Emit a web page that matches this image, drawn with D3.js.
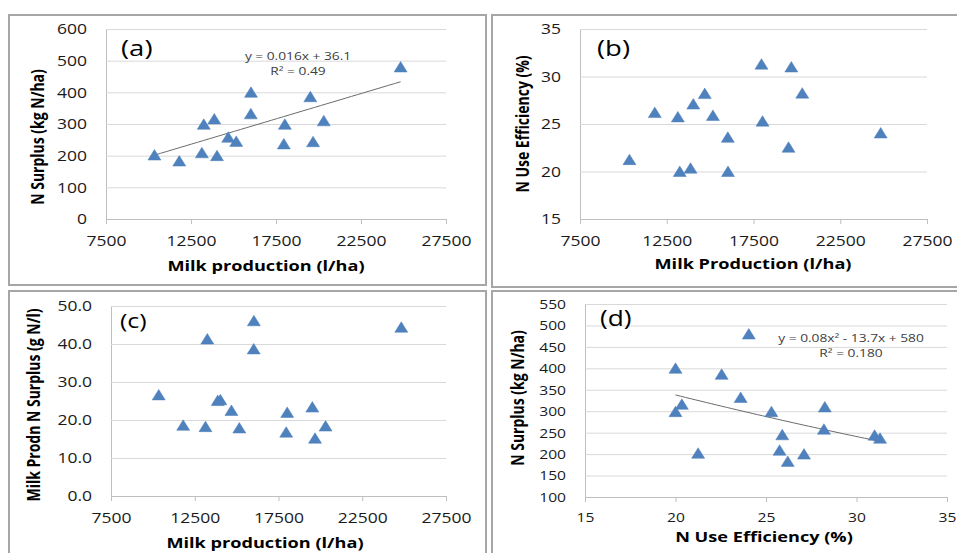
<!DOCTYPE html>
<html>
<head>
<meta charset="utf-8">
<script src="https://cdn.jsdelivr.net/npm/d3@7"></script>
<style>
  body { margin: 0; background: #fff; }
  svg { display: block; font-family: "Open Sans", sans-serif; }
</style>
</head>
<body>
<svg id="chart" width="957" height="553"></svg>
<script>
// one entry per farm, same order in every array
const milk = [10350, 11810, 13140, 13250, 13870, 14030, 14690, 15160, 16030, 16020, 17960, 18020, 19520, 19680, 20310, 24830];
const nSurplus = [202, 183, 209, 299, 316, 200, 258, 245, 400, 332, 237, 299, 386, 244, 310, 480];
const nUseEff = [21.25, 26.2, 25.75, 20.0, 20.35, 27.1, 28.2, 25.9, 20.0, 23.6, 31.3, 25.3, 22.55, 31.0, 28.25, 24.05];
const surplusPerLitre = [26.6, 18.6, 18.25, 41.3, 25.1, 25.3, 22.5, 17.9, 46.1, 38.7, 16.8, 22.0, 23.4, 15.2, 18.4, 44.4];

const milkTicks = [7500, 12500, 17500, 22500, 27500];
const nueTicks = [15, 20, 25, 30, 35];
const surplusTicks = [0, 100, 200, 300, 400, 500, 600];
const surplusTicksD = [100, 150, 200, 250, 300, 350, 400, 450, 500, 550];
const perLitreTicks = [0, 10, 20, 30, 40, 50];

// trend lines shown in (a) and (d)
const linFit = [0.016, 36.1];
const quadFit = [0.08, -13.7, 580];
const linLabel = ['y = 0.016x + 36.1', 'R² = 0.49'];
const quadLabel = ['y = 0.08x² - 13.7x + 580', 'R² = 0.180'];

const SX = 1.25; // text in the picture is stretched sideways
const blue = '#4f81bd';

const panels = [
  {tag: '(a)', box: [9, 15, 477, 270], plot: [106, 29, 446, 219],
   xs: milk, ys: nSurplus, xTicks: milkTicks, yTicks: surplusTicks, yFmt: d3.format('d'),
   xTitle: 'Milk production (l/ha)', yTitle: 'N Surplus (kg N/ha)',
   xTitleX: 266, xTitleDy: 52, tickDy: 27, yTitleX: 38, yTitleY: 137,
   tagSize: 22, tagDx: 15, tagDy: 27, tickSize: 14,
   fit: x => linFit[0] * x + linFit[1], fitLabel: linLabel, fitPos: [298, 60]},
  {tag: '(b)', box: [492, 15, 480, 272], plot: [580, 29, 927, 219],
   xs: milk, ys: nUseEff, xTicks: milkTicks, yTicks: nueTicks, yFmt: d3.format('d'),
   xTitle: 'Milk Production (l/ha)', yTitle: 'N Use Efficiency (%)',
   xTitleX: 753, xTitleDy: 50, tickDy: 27, yTitleX: 523, yTitleY: 124,
   tagSize: 22, tagDx: 17, tagDy: 27, tickSize: 14},
  {tag: '(c)', box: [9, 291, 477, 280], plot: [111, 306, 446, 496],
   xs: milk, ys: surplusPerLitre, xTicks: milkTicks, yTicks: perLitreTicks, yFmt: d3.format('.1f'),
   xTitle: 'Milk production (l/ha)', yTitle: 'Milk Prodn N Surplus (g N/l)',
   xTitleX: 265, xTitleDy: 52, tickDy: 27, yTitleX: 34, yTitleY: 405,
   tagSize: 20, tagDx: 9, tagDy: 22, tickSize: 14},
  {tag: '(d)', box: [492, 291, 480, 280], plot: [585, 304, 947, 497],
   xs: nUseEff, ys: nSurplus, xTicks: nueTicks, yTicks: surplusTicksD, yFmt: d3.format('d'),
   xTitle: 'N Use Efficiency (%)', yTitle: 'N Surplus (kg N/ha)',
   xTitleX: 764, xTitleDy: 45, tickDy: 25, yTitleX: 518, yTitleY: 398,
   tagSize: 21, tagDx: 15, tagDy: 22, tickSize: 12.5,
   fit: x => quadFit[0] * x * x + quadFit[1] * x + quadFit[2], fitLabel: quadLabel, fitPos: [851, 342]}
];

const svg = d3.select('#chart');

const triangle = 'M0,-5.5L6.5,5L-6.5,5Z';

panels.forEach(p => {
  const [x0, y0, x1, y1] = p.plot;
  const x = d3.scaleLinear().domain(d3.extent(p.xTicks)).range([x0, x1]);
  const y = d3.scaleLinear().domain(d3.extent(p.yTicks)).range([y1, y0]);

  svg.append('rect')
    .attr('x', p.box[0]).attr('y', p.box[1])
    .attr('width', p.box[2]).attr('height', p.box[3])
    .attr('fill', 'none').attr('stroke', '#a6a6a6').attr('stroke-width', 2);

  // grid + y labels
  const gy = svg.append('g')
    .attr('transform', `translate(${x0},0)`)
    .call(d3.axisLeft(y).tickValues(p.yTicks).tickSize(-(x1 - x0)).tickSizeOuter(0).tickFormat(p.yFmt));
  gy.select('.domain').attr('stroke', '#bfbfbf');
  gy.selectAll('.tick line').attr('stroke', (d, i) => i === 0 ? 'none' : '#d9d9d9');
  gy.selectAll('.tick text')
    .attr('x', 0).attr('dy', '0.35em')
    .attr('font-size', p.tickSize).attr('fill', '#1a1a1a')
    .attr('font-family', '"Open Sans", sans-serif')
    .attr('transform', `translate(-19,0) scale(${SX},1)`);

  const gx = svg.append('g')
    .attr('transform', `translate(0,${y1})`)
    .call(d3.axisBottom(x).tickValues(p.xTicks).tickSize(5).tickSizeOuter(0).tickPadding(0).tickFormat(d3.format('d')));
  gx.select('.domain').attr('stroke', '#bfbfbf');
  gx.selectAll('.tick line').attr('stroke', '#bfbfbf');
  gx.selectAll('.tick text')
    .attr('y', 0).attr('dy', 0)
    .attr('font-size', p.tickSize).attr('fill', '#1a1a1a')
    .attr('font-family', '"Open Sans", sans-serif')
    .attr('transform', `translate(0,${p.tickDy}) scale(${SX},1)`);

  svg.append('text')
    .attr('transform', `translate(${x0 + p.tagDx},${y0 + p.tagDy}) scale(${SX},1)`)
    .attr('font-size', p.tagSize).attr('fill', '#000')
    .text(p.tag);

  svg.append('text')
    .attr('transform', `translate(${p.xTitleX},${y1 + p.xTitleDy}) scale(${SX},1)`)
    .attr('text-anchor', 'middle').attr('font-size', 14.5).attr('font-weight', 700).attr('fill', '#000')
    .text(p.xTitle);

  svg.append('text')
    .attr('transform', `translate(${p.yTitleX},${p.yTitleY}) scale(${SX},1) rotate(-90)`)
    .attr('text-anchor', 'middle').attr('dy', '0.35em')
    .attr('font-size', 14).attr('font-weight', 700).attr('fill', '#000')
    .text(p.yTitle);

  const pts = p.xs.map((v, i) => [v, p.ys[i]]);

  if (p.fit) {
    const [lo, hi] = d3.extent(p.xs);
    const line = d3.line().x(d => x(d)).y(d => y(p.fit(d)));
    svg.append('path')
      .attr('d', line(d3.range(41).map(i => lo + (hi - lo) * i / 40)))
      .attr('fill', 'none').attr('stroke', '#6b6b6b').attr('stroke-width', 1);
  }

  svg.append('g')
    .selectAll('path')
    .data(pts)
    .join('path')
      .attr('d', triangle)
      .attr('transform', d => `translate(${x(d[0])},${y(d[1])})`)
      .attr('fill', blue)
      .attr('stroke', '#4a7ebb').attr('stroke-width', 0.5);

  if (p.fitLabel) {
    svg.append('g')
      .attr('font-size', 11).attr('fill', '#404040').attr('text-anchor', 'middle')
      .selectAll('text')
      .data(p.fitLabel)
      .join('text')
        .attr('transform', (d, i) => `translate(${p.fitPos[0]},${p.fitPos[1] + i * 15}) scale(${SX},1)`)
        .text(d => d);
  }
});
</script>
</body>
</html>
